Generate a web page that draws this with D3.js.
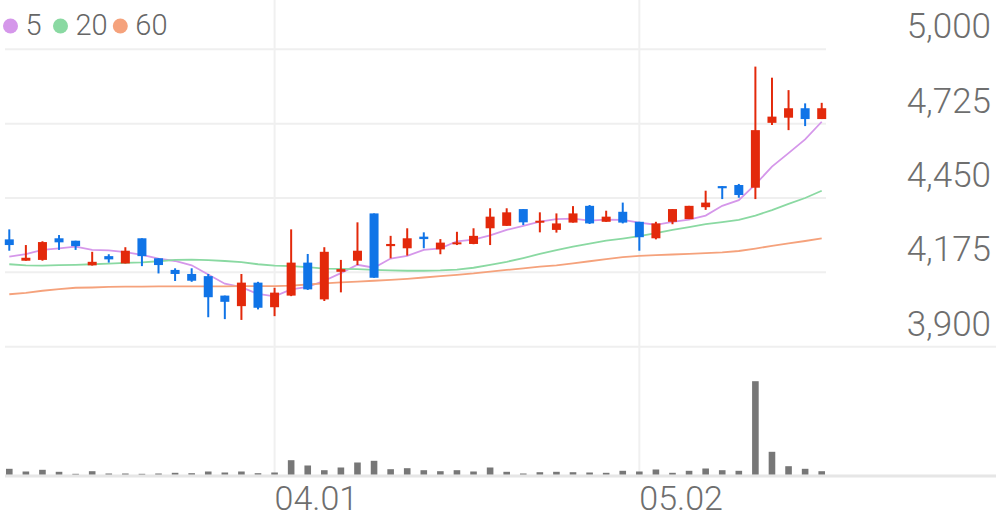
<!DOCTYPE html>
<html>
<head>
<meta charset="utf-8">
<script src="https://cdn.jsdelivr.net/npm/d3@7"></script>
<style>
  html, body { margin: 0; padding: 0; background: #fff; }
  svg { display: block; font-family: Roboto, "Noto Sans", sans-serif; }
</style>
</head>
<body>
<svg id="chart" width="996" height="519"></svg>
<script>
const dates = ["03.10","03.11","03.12","03.13","03.14","03.17","03.18","03.19","03.20","03.21",
  "03.24","03.25","03.26","03.27","03.28","03.31","04.01","04.02","04.03","04.04",
  "04.07","04.08","04.09","04.10","04.11","04.14","04.15","04.16","04.17","04.18",
  "04.21","04.22","04.23","04.24","04.25","04.28","04.29","04.30","05.02","05.07",
  "05.08","05.09","05.12","05.13","05.14","05.15","05.16","05.19","05.20","05.21"];
const opens = [4297,4218,4221,4301,4292,4201,4235,4208,4301,4227,
  4184,4169,4161,4089,4050,4137,4046,4089,4211,4075,
  4177,4218,4393,4272,4264,4307,4260,4279,4280,4338,
  4347,4409,4360,4332,4359,4421,4362,4399,4362,4301,
  4362,4372,4416,4494,4498,4488,4728,4747,4782,4742];
const highs = [4334,4276,4290,4313,4292,4251,4242,4268,4301,4227,
  4190,4190,4169,4089,4169,4140,4118,4334,4243,4268,
  4221,4360,4393,4310,4338,4323,4298,4325,4338,4412,
  4412,4409,4397,4393,4420,4424,4403,4433,4362,4362,
  4409,4421,4477,4494,4502,4936,4895,4849,4800,4802];
const lows = [4255,4218,4218,4258,4258,4200,4211,4208,4198,4171,
  4143,4140,4009,4002,3999,4038,4013,4087,4110,4069,
  4101,4202,4155,4227,4237,4264,4242,4276,4279,4276,
  4347,4350,4323,4322,4359,4354,4362,4356,4255,4297,
  4353,4372,4406,4446,4451,4446,4720,4701,4716,4742];
const closes = [4276,4229,4287,4286,4272,4214,4223,4255,4235,4202,
  4169,4144,4083,4066,4137,4044,4100,4211,4112,4251,
  4187,4255,4155,4280,4301,4298,4285,4286,4310,4381,
  4397,4360,4366,4356,4393,4356,4381,4359,4305,4356,
  4409,4421,4433,4486,4461,4701,4751,4782,4742,4782];
const volumes = [57000,30000,47000,27000,7000,33000,10000,10000,7000,10000,
  17000,13000,30000,20000,30000,13000,20000,143000,90000,43000,
  70000,120000,137000,53000,63000,43000,33000,43000,30000,70000,
  27000,10000,23000,27000,23000,20000,17000,37000,30000,50000,
  17000,37000,60000,43000,37000,933000,227000,83000,57000,33000];
const ma5 = [4233,4242,4258,4264,4270,4258,4256,4250,4240,4226,
  4217,4201,4167,4133,4120,4095,4086,4112,4121,4144,
  4172,4203,4192,4226,4236,4258,4264,4290,4296,4312,
  4332,4347,4363,4372,4374,4366,4370,4369,4359,4351,
  4362,4370,4385,4421,4442,4500,4566,4616,4667,4732];
const ma20 = [4205,4201,4200,4202,4203,4205,4207,4210,4212,4216,
  4221,4222,4220,4217,4213,4205,4200,4198,4194,4189,
  4188,4187,4184,4182,4181,4181,4182,4185,4192,4203,
  4214,4228,4243,4257,4270,4281,4292,4300,4309,4320,
  4332,4342,4353,4361,4369,4385,4405,4428,4450,4477];
const ma60 = [4094,4099,4107,4113,4118,4119,4121,4122,4122,4123,
  4123,4123,4123,4123,4124,4124,4124,4126,4130,4134,
  4138,4141,4144,4147,4151,4156,4161,4166,4171,4178,
  4184,4190,4196,4201,4208,4216,4224,4231,4236,4239,
  4241,4243,4246,4249,4254,4263,4273,4282,4291,4301];
const priceTicks = [3900, 4175, 4450, 4725, 5000];
const dateTicks = ["04.01", "05.02"];
const maPeriods = ["5", "20", "60"];
const maColors = ["#d597ea", "#8ad9a2", "#f5a27c"];

const UP = "#e3290b", DOWN = "#1074e7";

const svg = d3.select("#chart");
const x = d3.scaleBand().domain(dates).range([1, 830]).padding(0);
const cx = d => x(d) + x.bandwidth() / 2;
const y = d3.scaleLinear().domain([3900, 5000]).range([346.7, 49.3]);
const yv = d3.scaleLinear().domain([0, 1000000]).range([474.5, 374.5]);

// horizontal grid
svg.append("g").selectAll("line").data(priceTicks).join("line")
  .attr("x1", 5).attr("x2", d => d === 3900 ? 996 : 826)
  .attr("y1", d => y(d)).attr("y2", d => y(d))
  .attr("stroke", "#efefef").attr("stroke-width", 2);

// vertical grid
svg.append("g").selectAll("line").data(dateTicks).join("line")
  .attr("x1", d => cx(d)).attr("x2", d => cx(d))
  .attr("y1", 0).attr("y2", 475)
  .attr("stroke", "#f0f0f0").attr("stroke-width", 2);

// volume baseline
svg.append("line").attr("x1", 5).attr("x2", 996).attr("y1", 476).attr("y2", 476)
  .attr("stroke", "#e6e6e6").attr("stroke-width", 3);

// y labels
svg.append("g").selectAll("text").data(priceTicks).join("text")
  .attr("x", 991).attr("y", d => y(d) - 11)
  .attr("text-anchor", "end").attr("fill", "#6e6e6e")
  .attr("font-size", 35).attr("font-weight", 300)
  .text(d => d3.format(",")(d));

// x labels
svg.append("g").selectAll("text").data(dateTicks).join("text")
  .attr("x", d => cx(d)).attr("y", 510)
  .attr("text-anchor", "start").attr("fill", "#6e6e6e")
  .attr("font-size", 34).attr("font-weight", 300)
  .text(d => d);

// MA lines
[ma5, ma20, ma60].forEach((arr, k) => {
  const line = d3.line().x((d, i) => cx(dates[i])).y(d => y(d));
  svg.append("path").datum(arr).attr("d", line)
    .attr("fill", "none").attr("stroke", maColors[k]).attr("stroke-width", 1.8);
});

// candles
const candles = svg.append("g").selectAll("g").data(dates).join("g");
candles.append("line")
  .attr("x1", d => cx(d)).attr("x2", d => cx(d))
  .attr("y1", (d, i) => y(highs[i])).attr("y2", (d, i) => y(lows[i]))
  .attr("stroke", (d, i) => closes[i] >= opens[i] ? UP : DOWN).attr("stroke-width", 2);
candles.append("rect")
  .attr("x", d => cx(d) - 4.5).attr("width", 9)
  .attr("y", (d, i) => y(Math.max(opens[i], closes[i])))
  .attr("height", (d, i) => Math.max(2, Math.abs(y(opens[i]) - y(closes[i]))))
  .attr("fill", (d, i) => closes[i] >= opens[i] ? UP : DOWN);

// volume bars
svg.append("g").selectAll("rect").data(dates).join("rect")
  .attr("x", d => cx(d) - 3.3).attr("width", 6.6)
  .attr("y", (d, i) => yv(volumes[i]))
  .attr("height", (d, i) => yv(0) - yv(volumes[i]))
  .attr("fill", "#777777");

// legend
const legendX = [10.5, 60.5, 120.3];
const lg = svg.append("g").selectAll("g").data(maPeriods).join("g");
lg.append("circle").attr("cx", (d, i) => legendX[i]).attr("cy", 26).attr("r", 7.5)
  .attr("fill", (d, i) => maColors[i]);
lg.append("text").attr("x", (d, i) => legendX[i] + 15).attr("y", 35)
  .attr("fill", "#666").attr("font-size", 29).attr("font-weight", 300)
  .text(d => d);
</script>
</body>
</html>
